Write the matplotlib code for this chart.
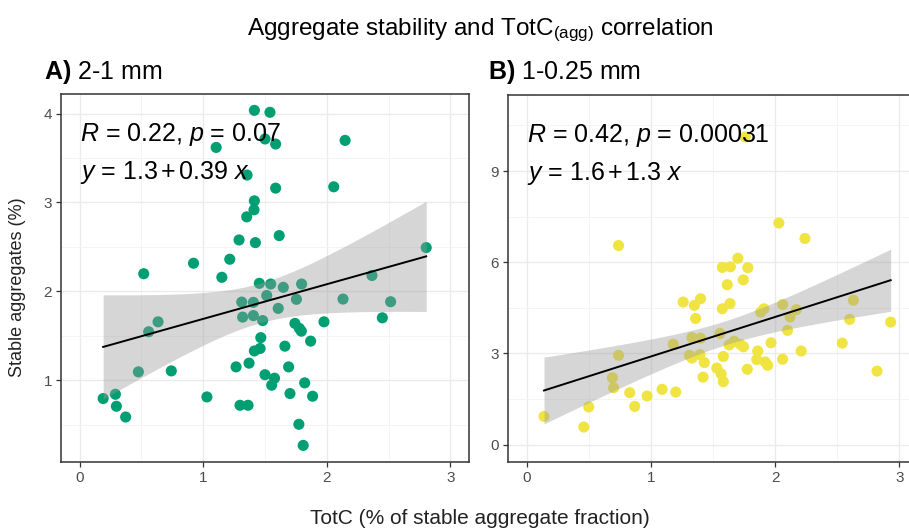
import numpy as np
import matplotlib
matplotlib.use("Agg")
import matplotlib.pyplot as plt
from matplotlib.ticker import MultipleLocator

plt.rcParams["font.family"] = ["Liberation Sans", "DejaVu Sans"]
plt.rcParams["mathtext.fontset"] = "custom"
plt.rcParams["mathtext.rm"] = "Liberation Sans"
plt.rcParams["mathtext.it"] = "Liberation Sans:italic"
plt.rcParams["mathtext.bf"] = "Liberation Sans:bold"

# ---- data: 2-1 mm fraction ----
totc_a = [1.414, 1.540, 1.105, 1.500, 1.586, 2.148, 1.355, 1.586, 2.056, 1.414,
          1.411, 1.352, 1.290, 1.422, 1.615, 0.922, 1.215, 0.519, 1.151, 2.804,
          2.365, 1.454, 1.546, 1.648, 1.796, 1.514, 1.312, 1.406, 1.607, 1.754,
          2.131, 2.516, 1.319, 1.406, 1.481, 2.449, 1.742, 1.778, 1.794, 1.977,
          0.635, 0.559, 1.466, 1.869, 1.661, 1.460, 1.414, 0.476, 0.742, 1.266,
          1.371, 1.691, 1.500, 1.577, 1.554, 1.821, 1.702, 1.885, 0.191, 0.290,
          0.298, 0.373, 1.030, 1.298, 1.363, 1.774, 1.809]
stab_a = [4.036, 4.014, 3.619, 3.714, 3.657, 3.698, 3.308, 3.161, 3.176, 3.018,
          2.917, 2.838, 2.578, 2.548, 2.627, 2.316, 2.361, 2.198, 2.158, 2.492,
          2.178, 2.090, 2.082, 2.045, 2.082, 1.953, 1.879, 1.876, 1.808, 1.910,
          1.913, 1.883, 1.710, 1.727, 1.671, 1.702, 1.639, 1.583, 1.552, 1.657,
          1.657, 1.545, 1.479, 1.440, 1.383, 1.357, 1.329, 1.094, 1.105, 1.150,
          1.192, 1.150, 1.062, 1.023, 0.944, 0.970, 0.850, 0.820, 0.794, 0.842,
          0.707, 0.586, 0.812, 0.718, 0.718, 0.504, 0.267]

# ---- data: 1-0.25 mm fraction ----
totc_b = [0.14, 0.46, 0.50, 0.74, 0.69, 0.70, 0.83, 0.87, 0.97, 1.09,
          1.20, 0.74, 1.18, 1.26, 1.40, 1.35, 1.36, 1.33, 1.40, 1.31,
          1.33, 1.395, 1.43, 1.42, 1.53, 1.565, 1.583, 1.583, 1.556, 1.63,
          1.67, 1.72, 1.745, 1.575, 1.64, 1.70, 1.78, 1.615, 1.744, 1.637,
          1.575, 1.76, 2.03, 2.24, 1.91, 1.884, 2.06, 2.17, 2.12, 2.63,
          2.60, 2.93, 2.10, 1.967, 2.54, 2.21, 1.86, 1.852, 2.06, 1.92,
          1.94, 1.776, 2.82]
stab_b = [0.93, 0.58, 1.24, 2.94, 2.20, 1.87, 1.71, 1.26, 1.60, 1.82,
          1.73, 6.55, 3.30, 4.69, 4.80, 4.58, 4.15, 3.52, 3.50, 2.94,
          2.85, 2.96, 2.70, 2.22, 2.52, 2.33, 2.07, 2.90, 3.66, 3.28,
          3.40, 3.30, 3.22, 5.83, 5.85, 6.13, 5.82, 5.26, 5.42, 4.64,
          4.47, 10.12, 7.29, 6.78, 4.47, 4.36, 4.61, 4.44, 4.20, 4.75,
          4.12, 4.03, 3.76, 3.35, 3.34, 3.08, 3.08, 2.80, 2.81, 2.72,
          2.61, 2.48, 2.42]

# ---- regression summaries ----
panel_tags = ["A)", "B)"]
panel_names = ["2-1 mm", "1-0.25 mm"]
cor_r = ["0.22", "0.42"]
cor_p = ["0.07", "0.00031"]
fit_intercept = [1.3, 1.6]
fit_slope = [0.39, 1.3]
point_colors = ["#009E73", "#F0E442"]

W, H = 909, 531
fig = plt.figure(figsize=(W / 100, H / 100), dpi=100)


def fig_box(left, top, right, bottom):
    return [left / W, 1 - bottom / H, (right - left) / W, (bottom - top) / H]


ax_a = fig.add_axes(fig_box(61, 94, 469, 462))
ax_b = fig.add_axes(fig_box(508, 95, 918, 462))


def style_axes(ax, ylim, ymajor):
    ax.set_xlim(-0.15, 3.15)
    ax.set_ylim(*ylim)
    ax.xaxis.set_major_locator(MultipleLocator(1))
    ax.xaxis.set_minor_locator(MultipleLocator(0.5))
    ax.yaxis.set_major_locator(MultipleLocator(ymajor))
    ax.yaxis.set_minor_locator(MultipleLocator(ymajor / 2))
    ax.grid(True, which="major", color="#EBEBEB", lw=1.0, zorder=0)
    ax.grid(True, which="minor", color="#F2F2F2", lw=0.6, zorder=0)
    ax.set_axisbelow(True)
    for s in ax.spines.values():
        s.set_color("#333333")
        s.set_linewidth(1.1)
    ax.tick_params(which="major", length=3.5, width=0.9, color="#333333",
                   labelcolor="#4D4D4D", labelsize=11, pad=3)
    ax.tick_params(which="minor", length=0)


def draw_panel(ax, x, y, i):
    x = np.asarray(x)
    y = np.asarray(y)
    ax.scatter(x, y, s=64, color=point_colors[i], edgecolors="none", zorder=2)
    b0, b1 = fit_intercept[i], fit_slope[i]
    n = len(x)
    resid = y - (b0 + b1 * x)
    s = np.sqrt(np.sum(resid ** 2) / (n - 2))
    xbar = x.mean()
    sxx = np.sum((x - xbar) ** 2)
    xs = np.linspace(x.min(), x.max(), 80)
    ys = b0 + b1 * xs
    half = 1.998 * s * np.sqrt(1 / n + (xs - xbar) ** 2 / sxx)
    ax.fill_between(xs, ys - half, ys + half, color="#999999", alpha=0.4,
                    lw=0, zorder=3)
    ax.plot(xs, ys, color="black", lw=1.4, zorder=4)


style_axes(ax_a, (0.08, 4.22), 1)
style_axes(ax_b, (-0.57, 11.5), 3)
draw_panel(ax_a, totc_a, stab_a, 0)
draw_panel(ax_b, totc_b, stab_b, 1)

ann_y = [(3.687, 3.266), (9.95, 8.69)]
for i, ax in enumerate([ax_a, ax_b]):
    ax.text(0, ann_y[i][0], f"$R$ = {cor_r[i]}, $p$ = {cor_p[i]}",
            fontsize=18, color="black", ha="left", va="baseline", zorder=5)
    ax.text(0, ann_y[i][1],
            f"$y$ = {fit_intercept[i]:g}$\\,$+$\\,${fit_slope[i]:g} $x$",
            fontsize=18, color="black", ha="left", va="baseline", zorder=5)

fig.text(18 / W, 1 - 287 / H, "Stable aggregates (%)", fontsize=13,
         color="#222222", rotation=90, ha="center", va="center")

tag_x = [44, 488]
for i in range(2):
    fig.text(tag_x[i] / W, 1 - 79 / H,
             f"$\\mathbf{{{panel_tags[i]}}}$ {panel_names[i]}",
             fontsize=18, ha="left", va="baseline")

fig.text(480 / W, 1 - 35 / H,
         "Aggregate stability and TotC$_{\\rm (agg)}$ correlation",
         fontsize=17.5, ha="center", va="baseline")
fig.text(480 / W, 1 - 518 / H, "TotC (% of stable aggregate fraction)",
         fontsize=15, ha="center", va="center", color="#222222")

fig.savefig("out.png", dpi=100)
